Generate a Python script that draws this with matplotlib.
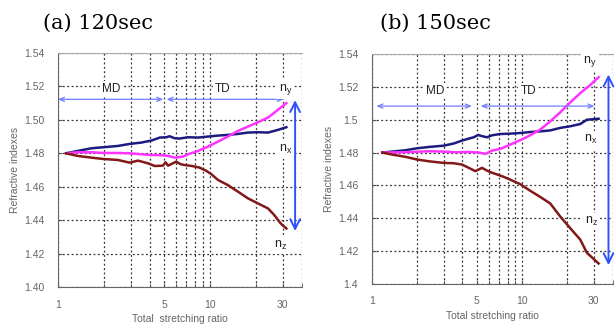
import matplotlib
matplotlib.use("Agg")
import matplotlib.pyplot as plt
import numpy as np

plt.rcParams['font.family'] = ['Liberation Sans', 'DejaVu Sans']

# (a) 120 sec
a_nx_x = [1.13, 1.35, 1.66, 1.98, 2.48, 2.96, 3.53, 4.11, 4.67, 5.17, 5.42, 5.85, 6.3, 7.17, 8.34, 9.7, 11.3, 13.1, 15.3, 17.8, 20.7, 24.1, 28.0, 31.8]
a_nx_y = [1.480, 1.4814, 1.4830, 1.4836, 1.4844, 1.4856, 1.4864, 1.4876, 1.4894, 1.4896, 1.4902, 1.4890, 1.4888, 1.4896, 1.4894, 1.4900, 1.4906, 1.4910, 1.4916, 1.4924, 1.4926, 1.4924, 1.4940, 1.4956]
a_ny_x = [1.13, 1.35, 1.66, 1.98, 2.48, 2.96, 3.53, 4.11, 4.9, 5.3, 5.87, 6.63, 7.17, 8.34, 9.7, 11.3, 13.1, 15.3, 17.8, 20.7, 24.1, 28.0, 31.8]
a_ny_y = [1.480, 1.4806, 1.4806, 1.4802, 1.4802, 1.4800, 1.4794, 1.4790, 1.4788, 1.4784, 1.4774, 1.4780, 1.4794, 1.4814, 1.4840, 1.4870, 1.4900, 1.4934, 1.4960, 1.4986, 1.5014, 1.5060, 1.5100]
a_nz_x = [1.13, 1.35, 1.66, 1.98, 2.48, 2.96, 3.36, 3.91, 4.33, 4.9, 5.1, 5.3, 6.0, 6.4, 6.8, 7.6, 8.5, 9.46, 10.2, 11.3, 13.1, 15.3, 17.8, 20.7, 24.1, 26.5, 29.2, 31.8]
a_nz_y = [1.480, 1.4784, 1.4774, 1.4766, 1.4760, 1.4744, 1.4756, 1.4740, 1.4724, 1.4726, 1.4746, 1.4726, 1.4750, 1.4735, 1.4730, 1.4724, 1.4715, 1.4695, 1.4675, 1.4640, 1.4610, 1.4570, 1.4530, 1.4500, 1.4470, 1.4430, 1.4380, 1.4350]

# (b) 150 sec
b_nx_x = [1.17, 1.36, 1.67, 1.99, 2.39, 3.0, 3.5, 3.98, 4.41, 4.76, 5.09, 5.41, 5.84, 6.3, 7.13, 8.3, 9.7, 11.3, 13.2, 15.4, 17.9, 20.9, 24.4, 27.0, 32.3]
b_nx_y = [1.480, 1.4806, 1.4814, 1.4826, 1.4834, 1.4842, 1.4855, 1.4873, 1.4885, 1.4893, 1.4907, 1.4900, 1.4893, 1.4905, 1.4913, 1.4915, 1.4919, 1.4925, 1.4929, 1.4935, 1.4950, 1.4960, 1.4974, 1.5000, 1.5006]
b_ny_x = [1.17, 1.67, 2.39, 3.0, 3.6, 4.41, 5.14, 5.7, 6.3, 7.13, 8.3, 9.7, 11.3, 13.2, 15.4, 17.9, 20.9, 24.4, 28.5, 32.3]
b_ny_y = [1.480, 1.4802, 1.4808, 1.4806, 1.4802, 1.4804, 1.4800, 1.4792, 1.4812, 1.4822, 1.4848, 1.4875, 1.4905, 1.4940, 1.4990, 1.5044, 1.5105, 1.5162, 1.5212, 1.5259]
b_nz_x = [1.17, 1.36, 1.67, 1.99, 2.39, 3.0, 3.5, 3.98, 4.41, 4.88, 5.14, 5.41, 5.84, 6.3, 6.8, 7.5, 8.3, 9.7, 11.3, 13.2, 15.4, 17.9, 20.9, 24.4, 27.0, 32.3]
b_nz_y = [1.480, 1.4788, 1.4774, 1.4758, 1.4747, 1.4737, 1.4735, 1.4727, 1.4707, 1.4687, 1.4697, 1.4707, 1.4690, 1.4677, 1.4667, 1.4653, 1.4636, 1.4608, 1.4568, 1.4530, 1.4490, 1.4412, 1.4340, 1.4270, 1.4190, 1.4125]

x_ticks = [1, 5, 10, 30]
y_ticks = [1.40, 1.42, 1.44, 1.46, 1.48, 1.50, 1.52, 1.54]
a_ylabels = ["1.40", "1.42", "1.44", "1.46", "1.48", "1.50", "1.52", "1.54"]
b_ylabels = ["1.4", "1.42", "1.44", "1.46", "1.48", "1.5", "1.52", "1.54"]

c_nx = "#1c1c80"
c_ny = "#ff33ff"
c_nz = "#821818"
c_harrow = "#6f7cff"
c_varrow = "#3050ff"
tick_gray = "#666666"

fig = plt.figure(figsize=(6.16, 3.25), dpi=100)
ax_a = fig.add_axes([58/616, 1-287/325, 244/616, 234/325])
ax_b = fig.add_axes([372/616, 1-284/325, 241/616, 230/325])


def style_axes(ax, ylabels, xlabel, xlabelpad):
    ax.set_xscale("log")
    ax.set_xlim(1, 40.3)
    ax.set_ylim(1.40, 1.54)
    ax.set_yticks(y_ticks)
    ax.set_yticklabels(ylabels)
    ax.set_xticks(x_ticks)
    ax.set_xticklabels([str(t) for t in x_ticks])
    ax.set_xticks([2, 3, 4, 6, 7, 8, 9, 20, 40], minor=True)
    ax.xaxis.set_minor_formatter(matplotlib.ticker.NullFormatter())
    ax.grid(True, which="both", linestyle=(0, (1.5, 2.0)), color="#333333", linewidth=0.9)
    ax.tick_params(which="both", direction="in", length=3, color="#555555",
                   labelsize=7.5, labelcolor=tick_gray)
    ax.tick_params(axis="x", pad=9)
    ax.tick_params(axis="y", pad=10)
    for s in ["left", "bottom"]:
        ax.spines[s].set_color("#666666")
    ax.spines["top"].set_color("#aaaaaa")
    ax.spines["right"].set_visible(False)
    ax.set_ylabel("Refractive indexes", fontsize=7.5, color=tick_gray, labelpad=3)
    ax.set_xlabel(xlabel, fontsize=7.5, color=tick_gray, labelpad=xlabelpad)
    ax.set_axisbelow(True)


def txt(ax, x, y, s, size=8.5):
    ax.text(x, y, s, fontsize=size, color="#222222", ha="center", va="center",
            bbox=dict(facecolor="white", edgecolor="none", pad=1.5))


# panel (a)
style_axes(ax_a, a_ylabels, "Total  stretching ratio", 3)
ax_a.plot(a_nx_x, a_nx_y, color=c_nx, lw=1.8)
ax_a.plot(a_ny_x, a_ny_y, color=c_ny, lw=1.8)
ax_a.plot(a_nz_x, a_nz_y, color=c_nz, lw=1.8)
harr = dict(arrowstyle="<->,head_length=0.35,head_width=0.15", color=c_harrow, lw=0.9,
            shrinkA=0, shrinkB=0)
varr = dict(arrowstyle="<->,head_length=0.7,head_width=0.35", color=c_varrow, lw=1.4,
            shrinkA=0, shrinkB=0)
ax_a.annotate("", xy=(1.0, 1.5123), xytext=(4.92, 1.5123), arrowprops=harr)
ax_a.annotate("", xy=(5.18, 1.5123), xytext=(30.5, 1.5123), arrowprops=harr)
ax_a.annotate("", xy=(36.3, 1.5118), xytext=(36.3, 1.4335), arrowprops=varr)
txt(ax_a, 2.25, 1.5184, "MD")
txt(ax_a, 12.1, 1.5184, "TD")
txt(ax_a, 31.3, 1.5180, r"$\mathregular{n_y}$", 9)
txt(ax_a, 31.3, 1.4820, r"$\mathregular{n_x}$", 9)
txt(ax_a, 29.0, 1.4250, r"$\mathregular{n_z}$", 9)

# panel (b)
style_axes(ax_b, b_ylabels, "Total stretching ratio", 3)
ax_b.plot(b_nx_x, b_nx_y, color=c_nx, lw=1.8)
ax_b.plot(b_ny_x, b_ny_y, color=c_ny, lw=1.8)
ax_b.plot(b_nz_x, b_nz_y, color=c_nz, lw=1.8)
ax_b.annotate("", xy=(1.07, 1.5083), xytext=(4.62, 1.5083), arrowprops=harr)
ax_b.annotate("", xy=(5.3, 1.5083), xytext=(30.3, 1.5083), arrowprops=harr)
ax_b.annotate("", xy=(37.6, 1.5275), xytext=(37.6, 1.4115), arrowprops=varr)
txt(ax_b, 2.63, 1.5176, "MD")
txt(ax_b, 11.0, 1.5176, "TD")
txt(ax_b, 28.4, 1.5353, r"$\mathregular{n_y}$", 9)
txt(ax_b, 28.4, 1.4877, r"$\mathregular{n_x}$", 9)
txt(ax_b, 28.8, 1.4380, r"$\mathregular{n_z}$", 9)

fig.text(98/616, 1-23/325, "(a) 120sec", fontsize=15, family="DejaVu Serif",
         ha="center", va="center")
fig.text(435/616, 1-23/325, "(b) 150sec", fontsize=15, family="DejaVu Serif",
         ha="center", va="center")

fig.savefig("out.png", dpi=100)
